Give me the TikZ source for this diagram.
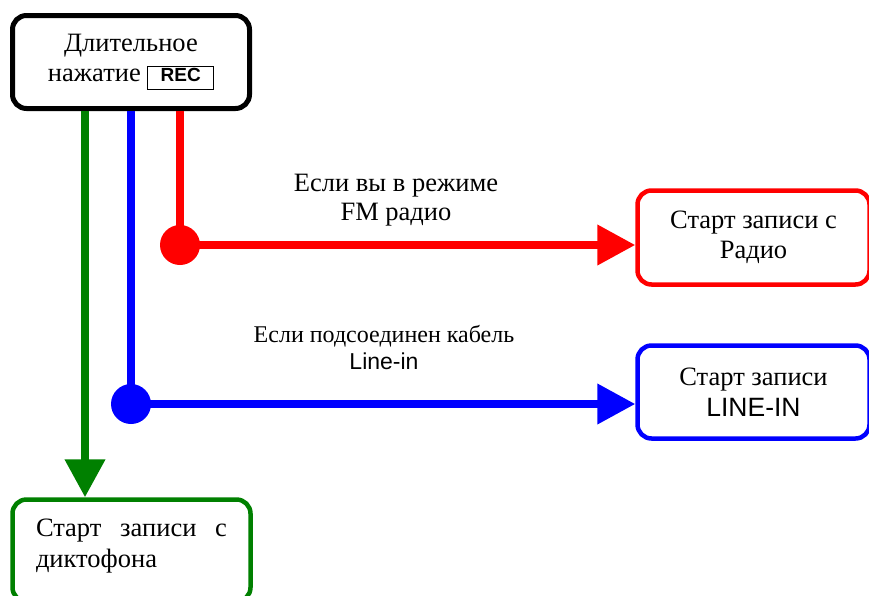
\documentclass[tikz,border=0pt]{standalone}
\usepackage{fontspec}
\setmainfont{Liberation Serif}
\setsansfont{Liberation Sans}
\usetikzlibrary{positioning,arrows.meta}

\definecolor{recgreen}{RGB}{0,128,0}
\newcommand{\recbtn}{{\setlength{\fboxsep}{1.5pt}\setlength{\fboxrule}{0.8pt}%
  \fbox{\makebox[62pt]{\fontsize{19}{19}\selectfont\sffamily\bfseries\strut REC}}}}

\begin{document}
\begin{tikzpicture}[x=1pt,y=-1pt]
\tikzset{
  box/.style={draw,line width=4.5pt,rounded corners=14pt,align=center,inner sep=0pt,
    font=\fontsize{26.5}{30.5}\selectfont},
  flowline/.style={line width=7.5pt},
  flow/.style={line width=7.5pt,-{Triangle[length=38pt,width=39pt]}},
  dot/.style={circle,inner sep=0pt,minimum size=40pt},
  note/.style={align=center,inner sep=0pt}
}
\useasboundingbox (0,0) rectangle (869,595);

% boxes
\node[box,line width=5pt,minimum width=237pt,minimum height=93pt] (press) at (131,62) {Длительное\\нажатие \recbtn};
\node[box,red,text=black,minimum width=232pt,minimum height=94pt] (radio) at (753.5,237.5) {Старт записи с\\Радио};
\node[box,blue,text=black,minimum width=232pt,minimum height=93pt] (linein) at (753.5,392) {Старт записи\\\sffamily LINE-IN};
\node[box,recgreen,text=black,minimum width=238pt,minimum height=102pt,text width=191pt,align=justify,text depth=45pt] (voice) at (131.5,550.5) {Старт записи с диктофона};

% branch points
\node[dot,fill=red] (rdot) at (180,245) {};
\node[dot,fill=blue] (bdot) at (131,404) {};

% connectors
\draw[flow,recgreen] (press.south -| 85,0) -- (voice.north -| 85,0);
\draw[flowline,blue] (press.south -| bdot) -- (bdot.center);
\draw[flow,blue] (bdot.center) -- (bdot -| linein.west);
\draw[flowline,red] (press.south -| rdot) -- (rdot.center);
\draw[flow,red] (rdot.center) -- (rdot -| radio.west);

% labels
\node[note,font=\fontsize{26.5}{29}\selectfont] (rlabel) at (396,200) {Если вы в режиме\\FM радио};
\node[note,font=\fontsize{24}{27}\selectfont] (blabel) at (384,348) {Если подсоединен кабель\\\fontsize{23}{27}\selectfont\sffamily Line-in};
\end{tikzpicture}
\end{document}
